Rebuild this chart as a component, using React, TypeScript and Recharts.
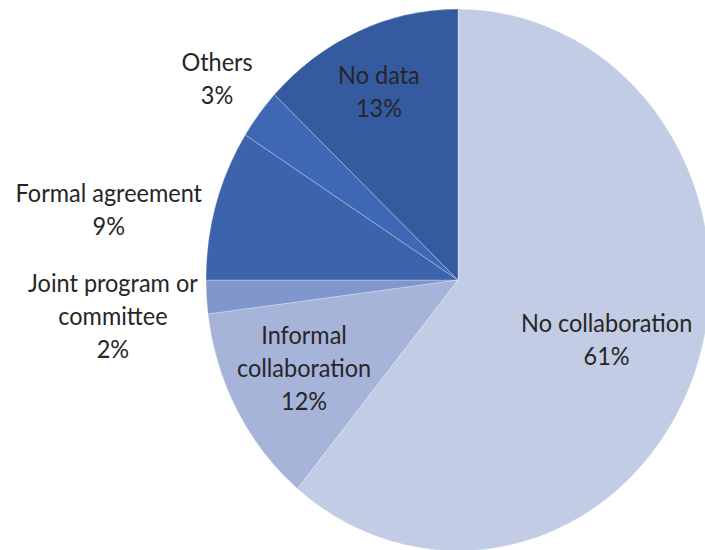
import { Pie, PieChart, Cell } from 'recharts';

const categories = [
  'No collaboration',
  'Informal collaboration',
  'Joint program or committee',
  'Formal agreement',
  'Others',
  'No data',
];
const shares = [61, 12, 2, 9, 3, 13];

// how each label is broken into lines
const labelLines = [
  ['No collaboration'],
  ['Informal', 'collaboration'],
  ['Joint program or', 'committee'],
  ['Formal agreement'],
  ['Others'],
  ['No data'],
];

const COLORS = ['#c3cce5', '#a7b4da', '#8097ce', '#3c63ab', '#3e68b4', '#355a9f'];

// label distance (share of radius) and a small px nudge, like Excel's best fit
const LABEL_RADIUS = [0.627, 0.697, 1.372, 1.443, 1.21, 0.77];
const LABEL_NUDGE: [number, number][] = [
  [0, 3],
  [0, -2],
  [0, 14],
  [0, 40],
  [0, 0],
  [-2, 4],
];

// the original pie (and its text) was stretched a bit vertically
const STRETCH = 1.075;
const CX = 458;
const CY = 280;
const R = 252;
const LINE_H = 33;
const RAD = Math.PI / 180;

const data = categories.map((name, i) => ({ name, value: shares[i] }));

function renderLabel(props: any) {
  const { cx, cy, midAngle, outerRadius, index, value } = props;
  const r = outerRadius * LABEL_RADIUS[index];
  const [nx, ny] = LABEL_NUDGE[index];
  const x = cx + r * Math.cos(-midAngle * RAD) + nx;
  const yVis = cy + r * Math.sin(-midAngle * RAD) * STRETCH + ny;
  const y = cy + (yVis - cy) / STRETCH;
  const lines = [...labelLines[index], `${value}%`];
  const first = (-((lines.length - 1) * LINE_H) / 2 + 8) / STRETCH;
  return (
    <text
      key={`lbl-${index}`}
      textAnchor="middle"
      fontFamily="Lato, 'Open Sans', sans-serif"
      fontSize={23.5}
      fill="#262626"
    >
      {lines.map((l, j) => (
        <tspan key={j} x={x} y={y + first + (j * LINE_H) / STRETCH}>
          {l}
        </tspan>
      ))}
    </text>
  );
}

export default function App() {
  return (
    <div style={{ position: 'absolute', left: 0, top: 0, width: 705, height: 550, overflow: 'hidden', background: '#fff' }}>
      <div style={{ transform: `scaleY(${STRETCH})`, transformOrigin: `${CX}px ${CY}px` }}>
        <PieChart width={705} height={550} margin={{ top: 0, right: 0, bottom: 0, left: 0 }}>
          <Pie
            data={data}
            dataKey="value"
            nameKey="name"
            cx={CX}
            cy={CY}
            outerRadius={R}
            startAngle={90}
            endAngle={-270}
            stroke="#ffffff"
            strokeOpacity={0.35}
            strokeWidth={0.75}
            label={renderLabel}
            labelLine={false}
            isAnimationActive={false}
          >
            {data.map((d, i) => (
              <Cell key={d.name} fill={COLORS[i]} />
            ))}
          </Pie>
        </PieChart>
      </div>
    </div>
  );
}
